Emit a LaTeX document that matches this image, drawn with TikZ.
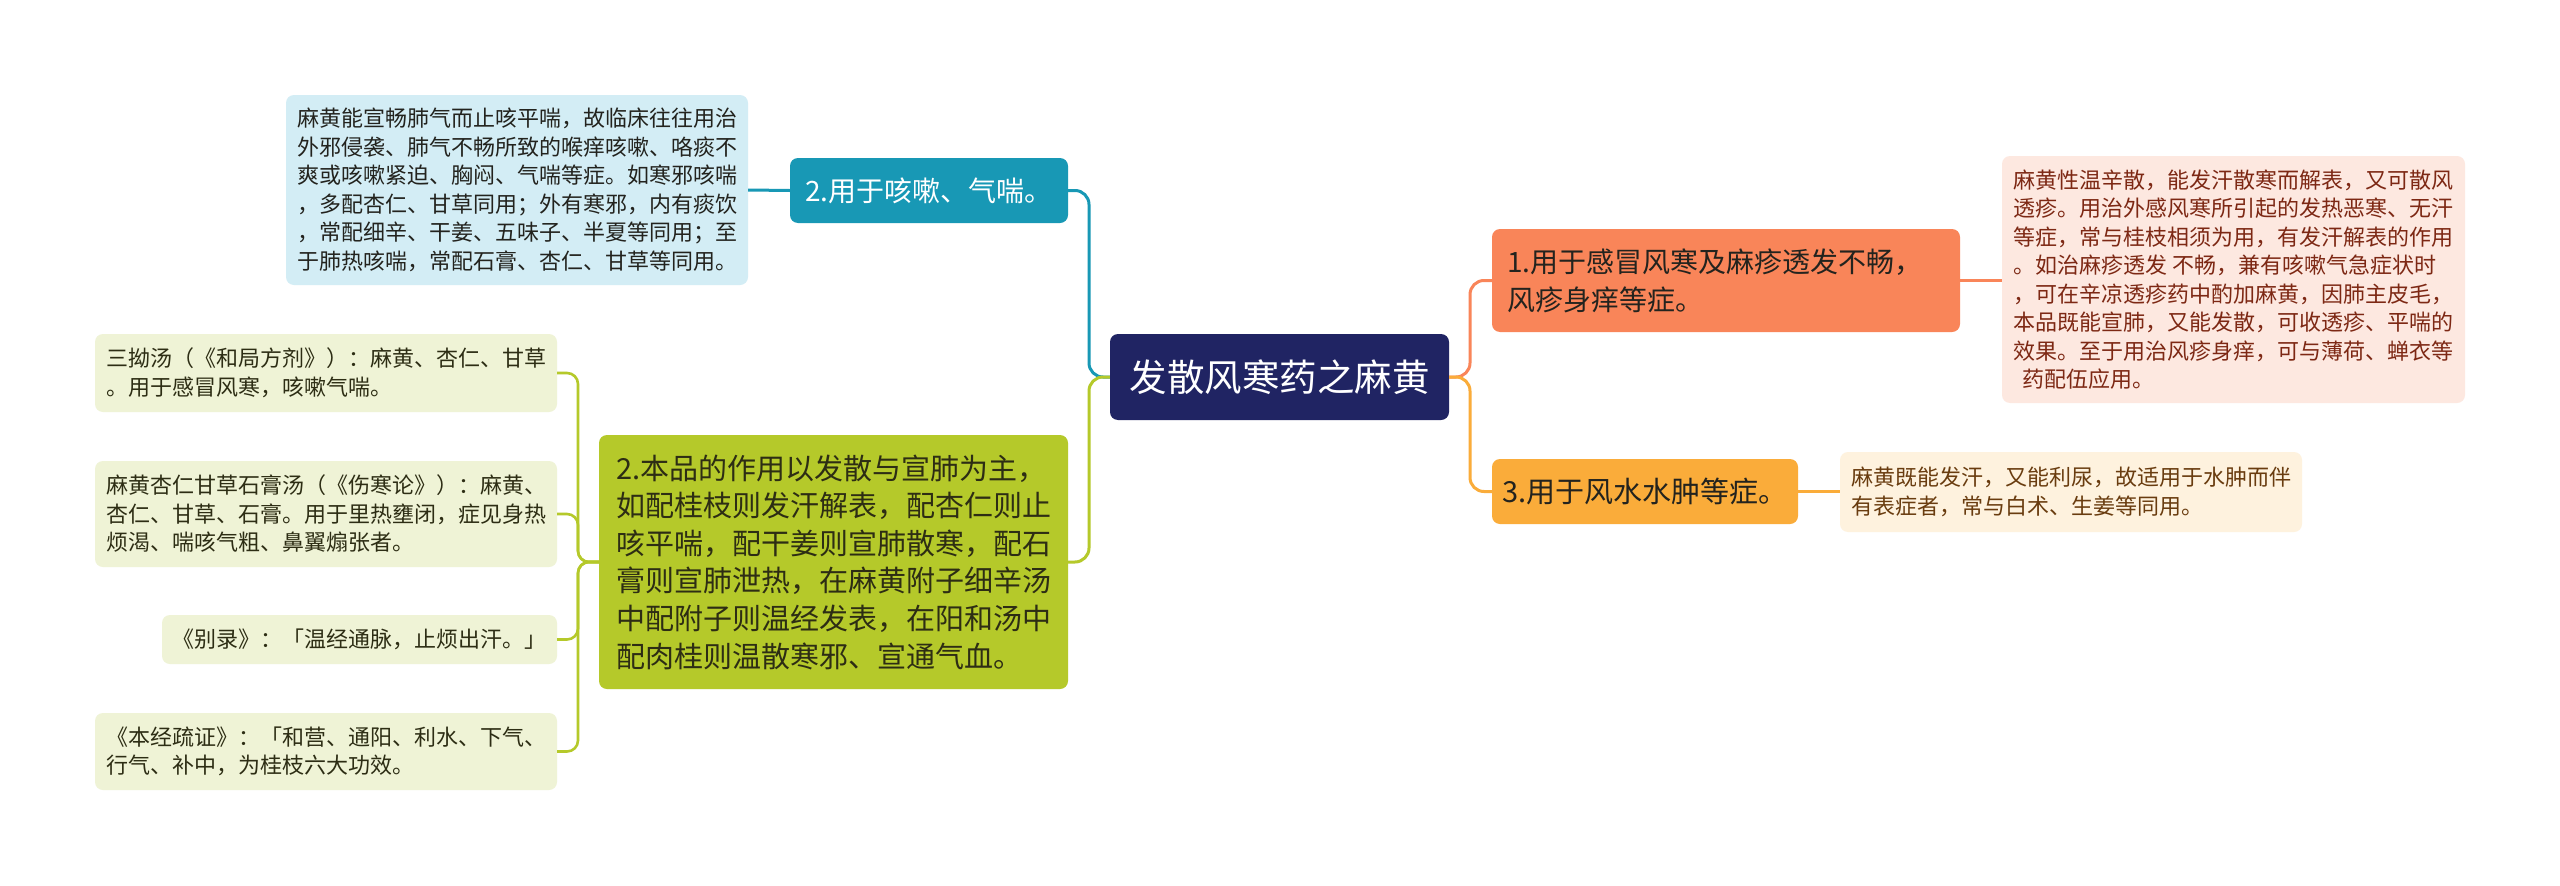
\documentclass[tikz,border=0pt]{standalone}
\usepackage{fontspec}
\setmainfont{Noto Sans CJK SC}
\definecolor{navy}{RGB}{32,36,99}
\definecolor{tealc}{RGB}{24,152,181}
\definecolor{lblue}{RGB}{211,237,245}
\definecolor{limec}{RGB}{181,201,42}
\definecolor{lgreen}{RGB}{239,243,214}
\definecolor{coral}{RGB}{249,133,89}
\definecolor{lpink}{RGB}{253,232,224}
\definecolor{amber}{RGB}{250,172,58}
\definecolor{lcream}{RGB}{254,242,222}
\definecolor{txtdark}{RGB}{35,35,30}
\definecolor{txtolive}{RGB}{45,45,20}
\definecolor{txtred}{RGB}{125,40,20}
\definecolor{txtbrown}{RGB}{105,60,15}
\begin{document}
\begin{tikzpicture}[x=1pt,y=-1pt,
  box/.style={rounded corners=8pt, inner sep=0pt, align=left},
  det/.style={box, font=\fontsize{22}{28.5}\selectfont},
  link/.style={line width=3pt, rounded corners=14pt},
  leafline/.style={line width=2.6pt, rounded corners=11pt, draw=limec},
]
\useasboundingbox[fill=white] (0,0) rectangle (2560,886);

% root
\node[box, fill=navy, text=white, minimum width=339pt, minimum height=86pt,
  font=\fontsize{37.5}{45}\selectfont] (root) at (1279.5,377) {发散风寒药之麻黄};

% left branches
\node[box, fill=tealc, text=white, minimum width=278pt, minimum height=65pt,
  font=\fontsize{28}{36}\selectfont] (b2) at (929,190.5) {2.用于咳嗽、气喘。};
\node[det, fill=lblue, text=txtdark, minimum width=462pt, minimum height=190pt] (bd) at (517,190) {麻黄能宣畅肺气而止咳平喘，故临床往往用治\\外邪侵袭、肺气不畅所致的喉痒咳嗽、咯痰不\\爽或咳嗽紧迫、胸闷、气喘等症。如寒邪咳喘\\，多配杏仁、甘草同用；外有寒邪，内有痰饮\\，常配细辛、干姜、五味子、半夏等同用；至\\于肺热咳喘，常配石膏、杏仁、甘草等同用。};

\node[box, fill=limec, text=txtolive, minimum width=469pt, minimum height=254pt,
  font=\fontsize{29}{37.6}\selectfont] (g) at (833.5,562) {2.本品的作用以发散与宣肺为主，\\如配桂枝则发汗解表，配杏仁则止\\咳平喘，配干姜则宣肺散寒，配石\\膏则宣肺泄热，在麻黄附子细辛汤\\中配附子则温经发表，在阳和汤中\\配肉桂则温散寒邪、宣通气血。};

\node[det, fill=lgreen, text=txtolive, minimum width=462pt, minimum height=78pt] (l1) at (326,373) {三拗汤（《和局方剂》）：麻黄、杏仁、甘草\\。用于感冒风寒，咳嗽气喘。};
\node[det, fill=lgreen, text=txtolive, minimum width=462pt, minimum height=106pt] (l2) at (326,514) {麻黄杏仁甘草石膏汤（《伤寒论》）：麻黄、\\杏仁、甘草、石膏。用于里热壅闭，症见身热\\烦渴、喘咳气粗、鼻翼煽张者。};
\node[det, fill=lgreen, text=txtolive, minimum width=395pt, minimum height=49pt] (l3) at (359.5,639.5) {《别录》：「温经通脉，止烦出汗。」};
\node[det, fill=lgreen, text=txtolive, minimum width=462pt, minimum height=77pt] (l4) at (326,751.5) {《本经疏证》：「和营、通阳、利水、下气、\\行气、补中，为桂枝六大功效。};

% right branches
\node[box, fill=coral, text=txtdark, minimum width=468pt, minimum height=103pt, text width=438pt,
  font=\fontsize{28}{38}\selectfont] (n1) at (1726,280.5) {1.用于感冒风寒及麻疹透发不畅，\\风疹身痒等症。};
\node[det, fill=lpink, text=txtred, minimum width=463pt, minimum height=247pt] (od) at (2233.5,279.5) {麻黄性温辛散，能发汗散寒而解表，又可散风\\透疹。用治外感风寒所引起的发热恶寒、无汗\\等症，常与桂枝相须为用，有发汗解表的作用\\。如治麻疹透发 不畅，兼有咳嗽气急症状时\\，可在辛凉透疹药中酌加麻黄，因肺主皮毛\rlap{，}\\本品既能宣肺，又能发散，可收透疹、平喘的\\效果。至于用治风疹身痒，可与薄荷、蝉衣等\\\hspace{0.4em}药配伍应用。};

\node[box, fill=amber, text=txtdark, minimum width=306pt, minimum height=65pt,
  font=\fontsize{29}{36}\selectfont] (n3) at (1645,491.5) {3.用于风水水肿等症。};
\node[det, fill=lcream, text=txtbrown, minimum width=462pt, minimum height=80pt] (d3) at (2071,492) {麻黄既能发汗，又能利尿，故适用于水肿而伴\\有表症者，常与白术、生姜等同用。};

% connectors
\draw[link, draw=tealc] (root.west) -- (1089,377) |- (b2.east);
\draw[link, draw=limec] (root.west) -- (1089,377) |- (g.east);
\draw[link, draw=coral] (root.east) -- (1470,377) |- (n1.west);
\draw[link, draw=amber] (root.east) -- (1470,377) |- (n3.west);

\draw[line width=3pt, draw=tealc] (b2.west) -- (bd.east);
\draw[line width=3pt, draw=coral] (n1.east) -- (od.west |- n1.east);
\draw[line width=3pt, draw=amber] (n3.east) -- (d3.west |- n3.east);

\draw[leafline] (g.west) -- (578,562) |- (l1.east);
\draw[leafline] (g.west) -- (578,562) |- (l2.east);
\draw[leafline] (g.west) -- (578,562) |- (l3.east);
\draw[leafline] (g.west) -- (578,562) |- (l4.east);
\end{tikzpicture}
\end{document}
